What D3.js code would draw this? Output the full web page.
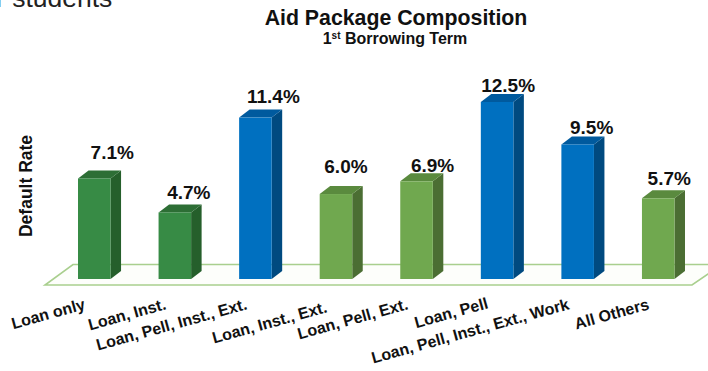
<!DOCTYPE html>
<html><head><meta charset="utf-8">
<script src="https://cdnjs.cloudflare.com/ajax/libs/d3/7.8.5/d3.min.js"></script>
<style>html,body{margin:0;padding:0;background:#fff}svg{display:block}text{font-family:"Liberation Sans",Arial,sans-serif}</style>
</head><body><div id="chart"></div>
<script>
const categories = ["Loan only","Loan, Inst.","Loan, Pell, Inst., Ext.","Loan, Inst., Ext.","Loan, Pell, Ext.","Loan, Pell","Loan, Pell, Inst., Ext., Work","All Others"];
const rates = [7.1,4.7,11.4,6.0,6.9,12.5,9.5,5.7];
const groups = ["dark","dark","blue","light","light","blue","blue","light"];
const groupNames = ["dark","blue","light"];
const frontColors = ["#378b45","#0070c0","#70a84f"];
const topColors = ["#2d6e35","#005a9e","#5a8a3e"];
const sideColors = ["#255f2b","#004a80","#4b6e33"];
// Label placement: end of each slanted category label, and value label offsets from the bar's front face
const labelAnchors = [[86,309],[167,309],[248,309],[328,312],[409,309],[489,308],[570,309],[650,309]];
const valueOffsets = [[18,-19],[14,-13],[18,-15],[10,-21],[16,-9],[11,-10],[14,-10],[11,-13]];

const W = 708, H = 371, dx = 10.5, dy = 8;
const svg = d3.select("#chart").append("svg").attr("width",W).attr("height",H);
const x = d3.scaleBand().domain(categories).range([78,674.5]).paddingInner(0.596).paddingOuter(0);
const y = d3.scaleLinear().domain([0,12.5]).range([279,102]);
const fill = s => d3.scaleOrdinal().domain(groupNames).range(s);
const front = fill(frontColors), top_ = fill(topColors), side = fill(sideColors);

// Header text, including the slide heading cut off by the top edge
svg.append("text").attr("x",-4).attr("y",7).attr("font-size",26.5).attr("fill","#222").text("r students");
svg.append("text").attr("x",396).attr("y",25).attr("text-anchor","middle").attr("font-size",21.3).attr("font-weight",700).attr("fill","#111").text("Aid Package Composition");
const sub = svg.append("text").attr("x",395).attr("y",44).attr("text-anchor","middle").attr("font-size",16).attr("font-weight",700).attr("fill","#111");
sub.append("tspan").text("1");
sub.append("tspan").attr("font-size",10).attr("dy",-5).text("st");
sub.append("tspan").attr("dy",5).text(" Borrowing Term");

svg.append("text").attr("transform","translate(32,186) rotate(-90)").attr("text-anchor","middle").attr("font-size",17.5).attr("font-weight",700).attr("fill","#111").text("Default Rate");

// Chart floor
const floor = d3.line();
svg.append("path").attr("d",floor([[45,285],[692,285],[722,264.5],[73,264.5]])+"Z").attr("fill","#fdfefb").attr("stroke","#a9cf8e").attr("stroke-width",1.6);

// Extruded bars
const bars = svg.selectAll("g.bar").data(categories).join("g").attr("class","bar");
const bw = x.bandwidth();
bars.append("path").attr("fill",(d,i)=>side(groups[i])).attr("d",(d,i)=>{
  const l=x(d)+bw, t=y(rates[i]), b=y(0);
  return floor([[l,t],[l+dx,t-dy],[l+dx,b-dy],[l,b]])+"Z";});
bars.append("path").attr("fill",(d,i)=>top_(groups[i])).attr("d",(d,i)=>{
  const l=x(d), t=y(rates[i]);
  return floor([[l,t],[l+dx,t-dy],[l+bw+dx,t-dy],[l+bw,t]])+"Z";});
bars.append("rect").attr("x",d=>x(d)).attr("width",bw).attr("y",(d,i)=>y(rates[i])).attr("height",(d,i)=>y(0)-y(rates[i])).attr("fill",(d,i)=>front(groups[i]));

// Value labels
bars.append("text").attr("x",(d,i)=>x(d)+bw/2+valueOffsets[i][0]).attr("y",(d,i)=>y(rates[i])+valueOffsets[i][1]).attr("text-anchor","middle").attr("font-size",19).attr("font-weight",700).attr("fill","#111").text((d,i)=>rates[i].toFixed(1)+"%");

// Slanted category labels
bars.append("text").attr("transform",(d,i)=>`translate(${labelAnchors[i][0]},${labelAnchors[i][1]}) rotate(-15.5)`).attr("text-anchor","end").attr("font-size",16).attr("font-weight",700).attr("fill","#111").text(d=>d);
</script></body></html>
